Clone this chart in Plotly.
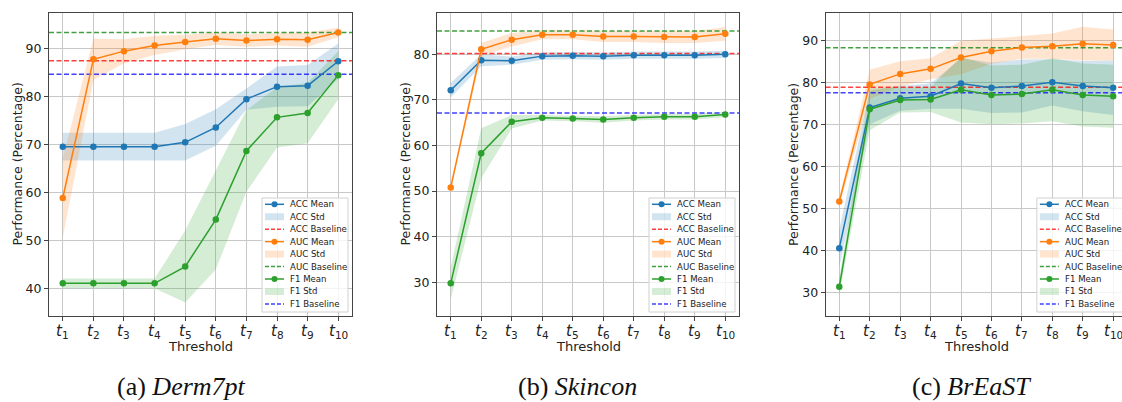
import plotly.graph_objects as go

W, H = 1122, 402
thresholds = list(range(1, 11))
tick_text = [f"<i>t</i><sub>{i}</sub>" for i in thresholds]

# ---- Derm7pt ----
derm_acc_mean = [69.5, 69.5, 69.5, 69.5, 70.4, 73.5, 79.4, 82.0, 82.2, 87.3]
derm_acc_std = [2.9, 2.9, 2.9, 2.9, 3.8, 3.8, 2.2, 4.2, 4.3, 3.7]
derm_auc_mean = [58.8, 87.7, 89.4, 90.6, 91.3, 92.0, 91.6, 91.9, 91.8, 93.3]
derm_auc_std = [8.3, 4.3, 2.5, 2.0, 1.5, 1.3, 1.3, 1.3, 1.5, 1.0]
derm_f1_mean = [41.0, 41.0, 41.0, 41.0, 44.5, 54.3, 68.6, 75.6, 76.5, 84.4]
derm_f1_std = [1.0, 1.0, 1.0, 1.0, 7.5, 10.4, 8.5, 6.3, 6.3, 5.0]
derm_baselines = [87.4, 93.3, 84.6]  # ACC, AUC, F1

# ---- Skincon ----
skin_acc_mean = [72.1, 78.7, 78.6, 79.6, 79.7, 79.6, 79.8, 79.8, 79.8, 80.0]
skin_acc_std = [1.6, 1.3, 0.9, 0.8, 0.8, 0.8, 0.8, 0.8, 0.8, 0.8]
skin_auc_mean = [50.8, 81.1, 83.2, 84.3, 84.3, 83.9, 83.9, 83.8, 83.8, 84.5]
skin_auc_std = [0.6, 1.4, 1.5, 1.0, 1.0, 1.2, 1.2, 1.3, 1.3, 1.5]
skin_f1_mean = [29.8, 58.3, 65.2, 66.1, 65.9, 65.7, 66.1, 66.3, 66.3, 66.8]
skin_f1_std = [3.5, 5.5, 1.5, 0.6, 0.6, 0.7, 0.6, 0.6, 0.6, 0.6]
skin_baselines = [80.15, 85.1, 67.1]

# ---- BrEaST ----
breast_acc_mean = [40.6, 74.1, 76.3, 76.8, 79.8, 78.8, 79.2, 80.1, 79.2, 78.8]
breast_acc_std = [4.5, 4.0, 3.0, 3.0, 6.0, 6.0, 6.3, 5.5, 6.0, 6.5]
breast_auc_mean = [51.7, 79.6, 82.1, 83.3, 86.0, 87.5, 88.4, 88.7, 89.3, 89.0]
breast_auc_std = [1.0, 3.5, 3.0, 2.5, 4.0, 3.0, 2.7, 3.0, 4.0, 3.7]
breast_f1_mean = [31.4, 73.7, 75.9, 76.0, 78.3, 77.1, 77.3, 78.3, 77.1, 76.8]
breast_f1_std = [2.0, 5.0, 3.0, 3.0, 7.8, 7.0, 7.0, 7.5, 7.5, 7.5]
breast_baselines = [78.9, 88.3, 77.6]

captions = ["(a) <i>Derm7pt</i>", "(b) <i>Skincon</i>", "(c) <i>BrEaST</i>"]

panels = [
    dict(acc=(derm_acc_mean, derm_acc_std), auc=(derm_auc_mean, derm_auc_std),
         f1=(derm_f1_mean, derm_f1_std), base=derm_baselines,
         px=(49, 352), xr=[0.55, 10.45], yr=[34.2, 97.35], ticks=[40, 50, 60, 70, 80, 90], cap_x=181),
    dict(acc=(skin_acc_mean, skin_acc_std), auc=(skin_auc_mean, skin_auc_std),
         f1=(skin_f1_mean, skin_f1_std), base=skin_baselines,
         px=(437, 739), xr=[0.55, 10.45], yr=[22.6, 89.06], ticks=[30, 40, 50, 60, 70, 80], cap_x=577),
    dict(acc=(breast_acc_mean, breast_acc_std), auc=(breast_auc_mean, breast_auc_std),
         f1=(breast_f1_mean, breast_f1_std), base=breast_baselines,
         px=(825.6, 1122), xr=[0.55, 10.29], yr=[24.45, 96.6], ticks=[30, 40, 50, 60, 70, 80, 90], cap_x=971),
]

BLUE, ORANGE, GREEN = "#1f77b4", "#ff7f0e", "#2ca02c"
FILLS = {"ACC": "rgba(31,119,180,0.2)", "AUC": "rgba(255,127,14,0.2)", "F1": "rgba(44,160,44,0.2)"}
LINES = {"ACC": BLUE, "AUC": ORANGE, "F1": GREEN}
BASE_COL = {"ACC": "rgba(255,0,0,0.75)", "AUC": "rgba(0,128,0,0.75)", "F1": "rgba(0,0,255,0.75)"}

PLOT_TOP, PLOT_BOT = 13, 316
FONT = "DejaVu Sans"

def xp(px):
    return px / W

def yp(py):
    return 1 - py / H

fig = go.Figure()
shapes, annotations = [], []

for i, p in enumerate(panels):
    sfx = "" if i == 0 else str(i + 1)
    xa, ya = "x" + sfx, "y" + sfx
    metrics = [("ACC", p["acc"]), ("AUC", p["auc"]), ("F1", p["f1"])]
    # std bands
    for name, (m, s) in metrics:
        upper = [a + b for a, b in zip(m, s)]
        lower = [a - b for a, b in zip(m, s)]
        fig.add_trace(go.Scatter(x=thresholds, y=upper, mode="lines", line=dict(width=0),
                                 hoverinfo="skip", showlegend=False, xaxis=xa, yaxis=ya))
        fig.add_trace(go.Scatter(x=thresholds, y=lower, mode="lines", line=dict(width=0),
                                 fill="tonexty", fillcolor=FILLS[name], showlegend=False,
                                 name=f"{name} Std", xaxis=xa, yaxis=ya))
    # baselines (span the full axis range)
    for name, val in zip(["ACC", "AUC", "F1"], p["base"]):
        fig.add_trace(go.Scatter(x=p["xr"], y=[val, val], mode="lines", name=f"{name} Baseline",
                                 line=dict(color=BASE_COL[name], width=1.5, dash="5px,2.5px"),
                                 showlegend=False, xaxis=xa, yaxis=ya, cliponaxis=True))
    # mean lines
    for name, (m, s) in metrics:
        fig.add_trace(go.Scatter(x=thresholds, y=m, mode="lines+markers", name=f"{name} Mean",
                                 line=dict(color=LINES[name], width=1.5),
                                 marker=dict(color=LINES[name], size=6.5),
                                 showlegend=False, xaxis=xa, yaxis=ya))

    x0, x1 = p["px"]
    common = dict(showgrid=True, gridcolor="#c8c8c8", gridwidth=1, showline=True, linecolor="#444",
                  linewidth=1, mirror=True, ticks="outside", ticklen=4, tickcolor="#444",
                  zeroline=False)
    fig.layout["xaxis" + sfx] = dict(common, domain=[xp(x0), min(xp(x1), 1.0)], range=p["xr"],
                                     tickmode="array", tickvals=thresholds, showticklabels=False,
                                     anchor=ya)
    fig.layout["yaxis" + sfx] = dict(common, domain=[yp(PLOT_BOT), yp(PLOT_TOP)], range=p["yr"],
                                     tickmode="array", tickvals=p["ticks"], anchor=xa,
                                     tickfont=dict(family=FONT, size=12.5, color="#222"))

    # x tick labels
    for t, lab in zip(thresholds, tick_text):
        annotations.append(dict(text=lab, x=t, xref=xa, y=yp(331), yref="paper", showarrow=False,
                                xanchor="center", yanchor="middle",
                                font=dict(family=FONT, size=15, color="#222")))

    # axis titles
    right_full = x0 + (x1 - x0) * (10.45 - 0.55) / (p["xr"][1] - p["xr"][0])
    annotations.append(dict(text="Threshold", x=xp((x0 + right_full) / 2), y=yp(346), xref="paper", yref="paper",
                            showarrow=False, xanchor="center", yanchor="middle",
                            font=dict(family=FONT, size=13, color="#222")))
    annotations.append(dict(text="Performance (Percentage)", x=xp(x0 - 32), y=yp((PLOT_TOP + PLOT_BOT) / 2),
                            xref="paper", yref="paper", textangle=-90, showarrow=False,
                            xanchor="center", yanchor="middle",
                            font=dict(family=FONT, size=12.5, color="#222")))
    # caption
    annotations.append(dict(text=captions[i], x=xp(p["cap_x"]), y=yp(386), xref="paper", yref="paper",
                            showarrow=False, xanchor="center", yanchor="middle",
                            font=dict(family="Liberation Serif", size=26, color="#111")))

    # custom legend
    bx1 = right_full - 4
    bx0 = bx1 - 86
    by0, by1 = 198, 312
    shapes.append(dict(type="rect", xref="paper", yref="paper", x0=xp(bx0), x1=xp(bx1), y0=yp(by1), y1=yp(by0),
                       fillcolor="rgba(255,255,255,0.8)", line=dict(color="#d0d0d0", width=1), layer="above"))
    entries = []
    for name in ["ACC", "AUC", "F1"]:
        entries += [(f"{name} Mean", "mean", name), (f"{name} Std", "std", name), (f"{name} Baseline", "base", name)]
    for k, (label, kind, name) in enumerate(entries):
        cy = 204.3 + 12.45 * k
        hx0, hx1 = bx0 + 3, bx0 + 22
        if kind == "mean":
            shapes.append(dict(type="line", xref="paper", yref="paper", x0=xp(hx0), x1=xp(hx1), y0=yp(cy), y1=yp(cy),
                               line=dict(color=LINES[name], width=1.5), layer="above"))
            r = 3
            cx = (hx0 + hx1) / 2
            shapes.append(dict(type="circle", xref="paper", yref="paper", x0=xp(cx - r), x1=xp(cx + r),
                               y0=yp(cy + r), y1=yp(cy - r), fillcolor=LINES[name],
                               line=dict(color=LINES[name], width=0), layer="above"))
        elif kind == "std":
            shapes.append(dict(type="rect", xref="paper", yref="paper", x0=xp(hx0), x1=xp(hx1), y0=yp(cy + 3.5),
                               y1=yp(cy - 3.5), fillcolor=FILLS[name], line=dict(width=0), layer="above"))
        else:
            shapes.append(dict(type="line", xref="paper", yref="paper", x0=xp(hx0), x1=xp(hx1), y0=yp(cy), y1=yp(cy),
                               line=dict(color=BASE_COL[name], width=1.5, dash="4px,2px"), layer="above"))
        annotations.append(dict(text=label, x=xp(bx0 + 26), y=yp(cy), xref="paper", yref="paper",
                                xanchor="left", yanchor="middle", showarrow=False,
                                font=dict(family=FONT, size=8.6, color="#222")))

fig.update_layout(width=W, height=H, autosize=False, margin=dict(l=0, r=0, t=0, b=0),
                  plot_bgcolor="white", paper_bgcolor="white", showlegend=False,
                  shapes=shapes, annotations=annotations, font=dict(family=FONT))

fig.write_html("out.html", config={"displayModeBar": False},
               post_script="document.body.style.margin='0';document.body.style.overflow='hidden';")
